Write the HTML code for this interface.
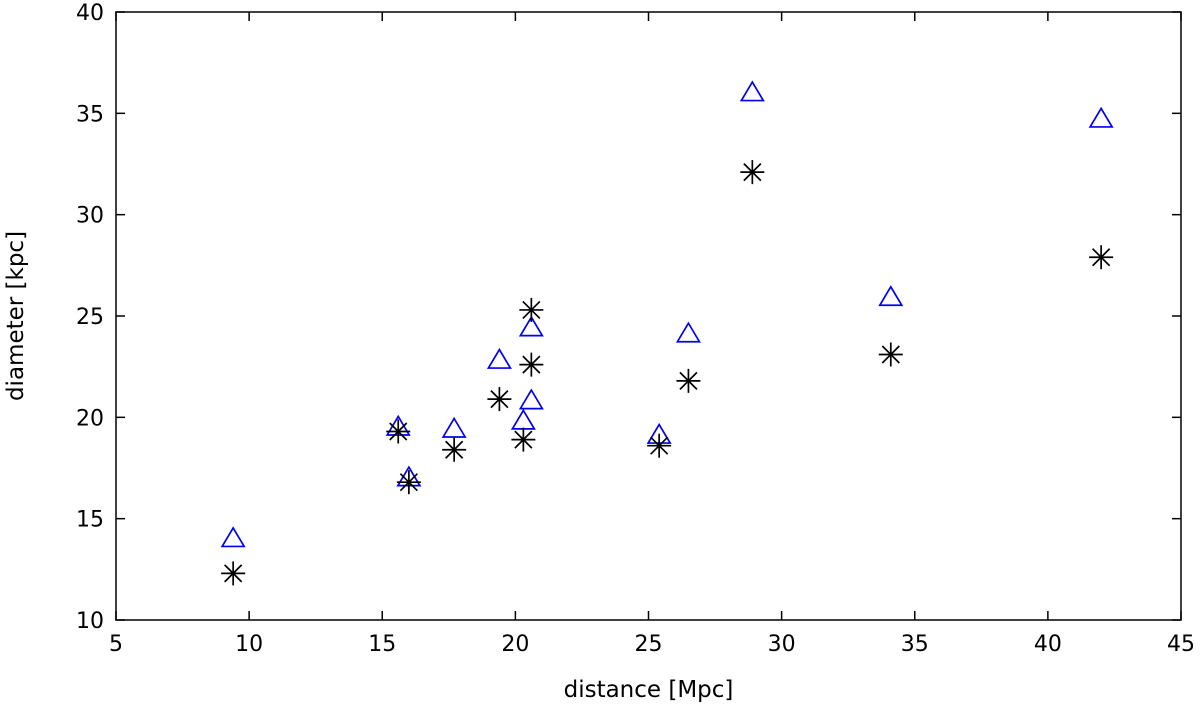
<!DOCTYPE html>
<html><head><meta charset="utf-8"><style>
html,body{margin:0;padding:0;background:#fff;}
svg{display:block;font-family:"DejaVu Sans","Liberation Sans",sans-serif;}
</style></head><body>
<svg id="chart" width="1200" height="716"></svg>
<script>
const xVals=[9.4,15.6,16.0,17.7,19.4,20.3,20.6,20.6,25.4,26.5,28.9,34.1,42.0];
const triVals=[14.0,19.5,17.0,19.4,22.8,19.8,24.4,20.8,19.1,24.1,36.0,25.9,34.7];
const starVals=[12.3,19.3,16.8,18.4,20.9,18.9,25.3,22.6,18.6,21.8,32.1,23.1,27.9];
const xTicks=[5,10,15,20,25,30,35,40,45];
const yTicks=[10,15,20,25,30,35,40];
const L=116,R=1181,T=12,B=620;
const sx=v=>L+(v-5)/(45-5)*(R-L);
const sy=v=>B-(v-10)/(40-10)*(B-T);
const svg=document.getElementById('chart');
const NS='http://www.w3.org/2000/svg';
function mk(tag,attrs,parent){const e=document.createElementNS(NS,tag);for(const k in attrs)e.setAttribute(k,attrs[k]);(parent||svg).appendChild(e);return e;}
const frame=mk('rect',{x:L,y:T,width:R-L,height:B-T,fill:'none',stroke:'#000','stroke-width':1.5});


xTicks.forEach(t=>{
  const x=sx(t);
  const g=mk('g',{});
  
  
  mk('line',{x1:x,y1:B,x2:x,y2:B-9,stroke:'#000','stroke-width':1.5},g);
  mk('line',{x1:x,y1:T,x2:x,y2:T+9,stroke:'#000','stroke-width':1.5},g);
  const tx=mk('text',{x:x,y:B+31,'text-anchor':'middle','font-size':22},g);tx.textContent=t;
});
yTicks.forEach(t=>{
  const y=sy(t);
  const g=mk('g',{});
  
  
  mk('line',{x1:L,y1:y,x2:L+9,y2:y,stroke:'#000','stroke-width':1.5},g);
  mk('line',{x1:R,y1:y,x2:R-9,y2:y,stroke:'#000','stroke-width':1.5},g);
  const tx=mk('text',{x:L-12,y:y+8,'text-anchor':'end','font-size':22},g);tx.textContent=t;
});
const xt=mk('text',{x:(L+R)/2,y:697,'text-anchor':'middle','font-size':23});xt.textContent='distance [Mpc]';


const yt=mk('text',{x:0,y:0,'text-anchor':'middle','font-size':23,transform:`translate(23,${(T+B)/2}) rotate(-90)`});yt.textContent='diameter [kpc]';


xVals.forEach((xv,i)=>{
  const x=sx(xv),y=sy(triVals[i]);
  const p=mk('polygon',{points:`${x},${y-11} ${x-11},${y+7.5} ${x+11},${y+7.5}`,fill:'none',stroke:'#0000ee','stroke-width':1.7});
  
  
  const ys=sy(starVals[i]);
  const g=mk('g',{stroke:'#000','stroke-width':1.7});
  
  
  const r=12,d=8.5;
  mk('line',{x1:x-r,y1:ys,x2:x+r,y2:ys},g);
  mk('line',{x1:x,y1:ys-r,x2:x,y2:ys+r},g);
  mk('line',{x1:x-d,y1:ys-d,x2:x+d,y2:ys+d},g);
  mk('line',{x1:x-d,y1:ys+d,x2:x+d,y2:ys-d},g);
});
</script>
</body></html>
